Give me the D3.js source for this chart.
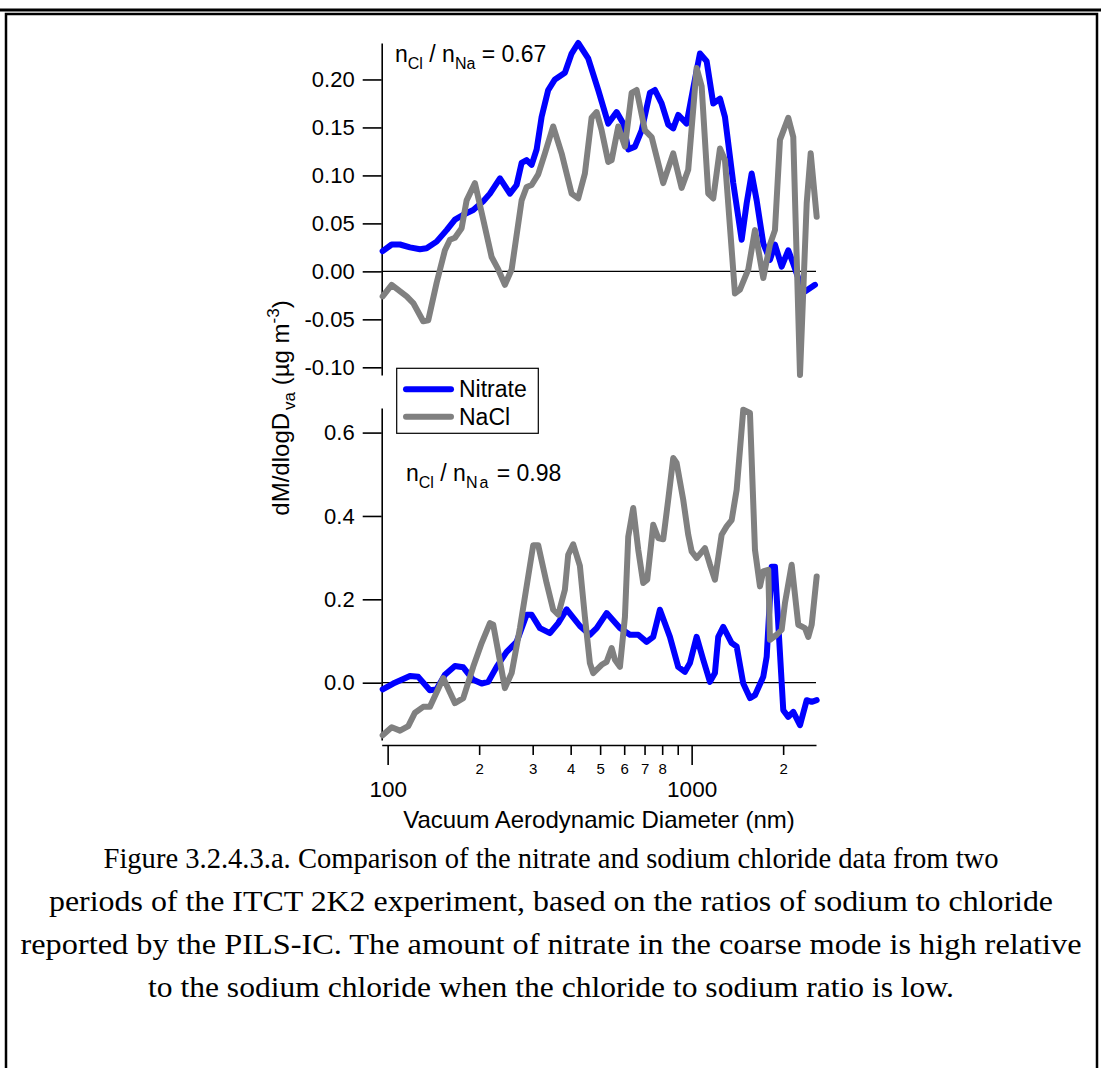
<!DOCTYPE html>
<html><head><meta charset="utf-8">
<script src="https://cdn.jsdelivr.net/npm/d3@7"></script>
<style>body{margin:0;background:#fff}svg{display:block}</style>
</head><body>
<svg id="c" width="1101" height="1068"></svg>
<script>
// ---------------- data ----------------
const topNitrateD = [96.3,103.1,109.8,118.4,127.7,134.3,144.9,156.3,166.5,177.3,191.2,206.3,217.0,234.1,252.5,265.6,275.9,286.5,297.6,309.1,321.0,337.4,355.0,382.9,402.9,423.5,456.8,492.9,531.7,566.6,595.7,618.6,650.8,684.7,729.1,757.3,796.6,837.5,869.8,903.3,962.6,1012.2,1064.9,1120.4,1177.8,1239.2,1287.0,1370.6,1460.7,1517.1,1575.7,1636.5,1720.4,1810.0,1879.8,1977.7,2079.0,2159.3,2272.1,2359.8,2545.5];
const topNitrateV = [0.021,0.028,0.028,0.025,0.023,0.024,0.031,0.043,0.054,0.059,0.064,0.073,0.081,0.097,0.081,0.090,0.113,0.116,0.111,0.127,0.161,0.189,0.200,0.207,0.227,0.238,0.222,0.189,0.154,0.166,0.154,0.127,0.130,0.147,0.186,0.189,0.175,0.153,0.149,0.163,0.154,0.191,0.227,0.219,0.175,0.180,0.161,0.092,0.033,0.071,0.102,0.074,0.029,0.012,0.028,0.005,0.022,0.008,-0.012,-0.021,-0.014];
const topNaClD = [96.3,103.1,115.5,121.4,130.9,136.0,144.9,154.3,160.3,166.5,175.1,181.9,193.7,206.3,219.8,231.1,243.1,255.8,275.9,286.5,297.6,312.8,329.1,350.4,373.5,402.9,423.5,445.5,468.7,487.0,505.7,531.7,545.6,573.5,603.4,634.8,659.3,702.0,738.6,806.3,869.8,926.9,974.4,1038.6,1078.7,1134.1,1177.8,1239.2,1287.0,1388.4,1442.0,1535.6,1615.5,1720.4,1810.0,1879.8,1952.4,2079.0,2159.3,2272.1,2390.4,2464.0,2578.5];
const topNaClV = [-0.026,-0.014,-0.026,-0.033,-0.052,-0.051,-0.012,0.022,0.033,0.035,0.045,0.074,0.092,0.054,0.015,0.002,-0.014,0.002,0.074,0.088,0.090,0.101,0.123,0.151,0.123,0.081,0.076,0.102,0.160,0.166,0.147,0.114,0.116,0.151,0.130,0.186,0.189,0.147,0.140,0.092,0.123,0.087,0.106,0.212,0.193,0.081,0.076,0.128,0.116,-0.023,-0.019,0.002,0.043,-0.007,0.028,0.043,0.137,0.160,0.140,-0.108,0.071,0.123,0.057];
const botNitrateD = [96.3,104.3,118.4,126.1,137.7,144.9,154.3,166.5,177.3,191.2,203.8,214.2,228.3,246.3,265.6,286.5,297.6,316.9,341.8,364.0,387.9,429.0,462.7,487.0,525.3,580.9,626.6,667.3,711.1,747.6,786.4,848.3,903.3,950.3,987.2,1038.6,1091.9,1148.8,1193.1,1223.3,1270.6,1354.1,1406.4,1478.5,1555.5,1615.5,1720.4,1765.3,1833.4,1879.8,2001.8,2079.0,2159.3,2272.1,2390.4,2482.7,2578.5];
const botNitrateV = [-0.016,-0.002,0.016,0.014,-0.018,-0.016,0.019,0.040,0.037,0.007,-0.002,0.002,0.038,0.074,0.098,0.163,0.163,0.131,0.119,0.143,0.176,0.136,0.115,0.131,0.167,0.131,0.115,0.115,0.098,0.110,0.175,0.110,0.038,0.026,0.047,0.110,0.055,0.002,0.023,0.110,0.134,0.095,0.087,-0.002,-0.037,-0.030,0.014,0.062,0.278,0.278,-0.066,-0.082,-0.070,-0.102,-0.042,-0.046,-0.042];
const botNaClD = [96.3,103.1,109.8,116.9,123.0,130.9,137.7,152.4,166.5,177.3,191.2,203.8,217.0,222.5,243.1,255.8,272.4,290.0,301.2,312.8,333.4,350.4,364.0,382.9,392.6,407.8,429.0,445.5,462.7,474.4,505.7,525.3,545.6,559.4,580.9,603.4,618.6,642.5,667.3,693.0,714.4,747.6,776.4,806.3,837.5,869.8,892.5,938.2,974.4,1000,1038.6,1106.1,1148.8,1193.1,1255.2,1303.7,1354.1,1406.4,1478.5,1555.5,1615.5,1677.9,1720.4,1786.8,1810.0,1904.2,1977.7,2027.7,2133.3,2243.0,2359.8,2419.5,2482.7,2578.5];
const botNaClV = [-0.126,-0.107,-0.115,-0.104,-0.072,-0.058,-0.058,0.011,-0.049,-0.037,0.038,0.095,0.143,0.139,-0.013,0.023,0.131,0.255,0.330,0.330,0.239,0.175,0.163,0.223,0.307,0.332,0.280,0.158,0.047,0.023,0.043,0.050,0.083,0.055,0.038,0.158,0.350,0.419,0.319,0.239,0.247,0.379,0.347,0.344,0.439,0.539,0.527,0.439,0.355,0.315,0.299,0.323,0.283,0.247,0.355,0.375,0.390,0.463,0.655,0.647,0.319,0.231,0.267,0.271,0.103,0.115,0.127,0.191,0.283,0.139,0.131,0.110,0.139,0.255];

const topTicks = [-0.10,-0.05,0.00,0.05,0.10,0.15,0.20];
const botTicks = [0.0,0.2,0.4,0.6];
const xMajor = [100,1000];
const xMinor = [200,300,400,500,600,700,800,900,2000];
const xMinorLabels = ["2","3","4","5","6","7","8","","2"];
const seriesNames = ["Nitrate","NaCl"];
const seriesColors = ["#0000ff","#808080"];
const ratios = ["0.67","0.98"];
const captionLines = [
 "Figure 3.2.4.3.a. Comparison of the nitrate and sodium chloride data from two",
 "periods of the ITCT 2K2 experiment, based on the ratios of sodium to chloride",
 "reported by the PILS-IC. The amount of nitrate in the coarse mode is high relative",
 "to the sodium chloride when the chloride to sodium ratio is low."
];

// ---------------- drawing ----------------
const svg = d3.select("#c");
svg.append("rect").attr("width",1101).attr("height",1068).attr("fill","#fff");
const SANS = "'Liberation Sans', Arial, Helvetica, sans-serif";
const SERIF = "'Liberation Serif', 'Times New Roman', serif";

// page frame
svg.append("line").attr("x1",0).attr("x2",1101).attr("y1",10).attr("y2",10).attr("stroke","#000").attr("stroke-width",3);
svg.append("path").attr("d","M6,1070V14H1097V1070").attr("fill","none").attr("stroke","#000").attr("stroke-width",2.5);

const x = d3.scaleLog().domain([95.6,2565]).range([381.7,816]);
const yTop = d3.scaleLinear().domain([-0.108,0.238]).range([375,43]);
const yBot = d3.scaleLinear().domain([-0.1375,0.659]).range([740,408]);

function yAxis(scale, ticks, fmt) {
  const g = svg.append("g").attr("transform","translate(381.7,0)")
    .call(d3.axisLeft(scale).tickValues(ticks).tickFormat(fmt).tickSize(19).tickPadding(8).tickSizeOuter(0));
  g.select(".domain").attr("stroke-width",1.6);
  g.selectAll(".tick line").attr("stroke-width",1.6);
  g.selectAll(".tick text").style("font-family",SANS).style("font-size","22px").attr("fill","#000");
  return g;
}
yAxis(yTop, topTicks, d => d3.format(".2f")(d).replace("−","-"));
yAxis(yBot, botTicks, d => d3.format(".1f")(d).replace("−","-"));

// zero lines
[yTop, yBot].forEach(s => {
  svg.append("line").attr("x1",381.7).attr("x2",816).attr("y1",s(0)).attr("y2",s(0)).attr("stroke","#000").attr("stroke-width",1.2);
});

// x axis
const allX = xMajor.concat(xMinor);
const gx = svg.append("g").attr("transform","translate(0,745)")
  .call(d3.axisBottom(x).tickValues(allX).tickFormat("").tickSize(10).tickSizeOuter(0));
gx.select(".domain").attr("stroke-width",1.6);
gx.selectAll(".tick line").attr("stroke-width",1.6).attr("y2", d => xMajor.includes(d) ? 20 : 10);
gx.selectAll(".tick text").remove();
gx.selectAll(".tick").filter(d => xMajor.includes(d)).append("text")
  .attr("y",52).attr("text-anchor","middle").attr("fill","#000")
  .style("font-family",SANS).style("font-size","22.5px").text(d => d3.format("d")(d));
gx.selectAll(".tick").filter(d => xMinor.includes(d)).append("text")
  .attr("y",29).attr("text-anchor","middle").attr("fill","#000")
  .style("font-family",SANS).style("font-size","15px").text(d => xMinorLabels[xMinor.indexOf(d)]);

svg.append("text").attr("x",599).attr("y",828).attr("text-anchor","middle")
  .style("font-family",SANS).style("font-size","24px").text("Vacuum Aerodynamic Diameter (nm)");

// y title
const yt = svg.append("text").attr("transform","translate(289,408) rotate(-90)")
  .attr("text-anchor","middle").style("font-family",SANS).style("font-size","24px");
yt.append("tspan").text("dM/dlogD");
yt.append("tspan").attr("dy",6).attr("dx",3).style("font-size","17px").text("va");
yt.append("tspan").attr("dy",-6).text(" (µg m");
yt.append("tspan").attr("dy",-10).style("font-size","17px").text("-3");
yt.append("tspan").attr("dy",10).text(")");

// lines
const line = (s) => d3.line().x(d => x(d[0])).y(d => s(d[1]));
function drawSeries(D, V, s, color) {
  svg.append("path").datum(D.map((d,i) => [d, V[i]]))
    .attr("d", line(s)).attr("fill","none").attr("stroke",color)
    .attr("stroke-width",6).attr("stroke-linejoin","round").attr("stroke-linecap","round");
}
drawSeries(topNitrateD, topNitrateV, yTop, seriesColors[0]);
drawSeries(topNaClD, topNaClV, yTop, seriesColors[1]);
drawSeries(botNitrateD, botNitrateV, yBot, seriesColors[0]);
drawSeries(botNaClD, botNaClV, yBot, seriesColors[1]);

// ratio annotations
function ratio(px, py, val, sp) {
  const t = svg.append("text").attr("x",px).attr("y",py).style("font-family",SANS).style("font-size","23px");
  t.append("tspan").text("n");
  t.append("tspan").attr("dy",7).style("font-size","16px").text("Cl");
  t.append("tspan").attr("dy",-7).text(" / n");
  t.append("tspan").attr("dy",7).style("font-size","16px").style("letter-spacing",sp).text("Na");
  t.append("tspan").attr("dy",-7).text(" = " + val);
}
ratio(395, 62, ratios[0], "0px");
ratio(406, 481, ratios[1], "2px");

// legend
const lg = svg.append("g");
lg.append("rect").attr("x",396.7).attr("y",368.3).attr("width",141.6).attr("height",65)
  .attr("fill","#fff").attr("stroke","#000").attr("stroke-width",1.2);
seriesNames.forEach((n,i) => {
  const yy = 389.3 + i*27.5;
  lg.append("line").attr("x1",406).attr("x2",451).attr("y1",yy).attr("y2",yy)
    .attr("stroke",seriesColors[i]).attr("stroke-width",6).attr("stroke-linecap","round");
  lg.append("text").attr("x",459).attr("y",yy+8).style("font-family",SANS).style("font-size","23px").text(n);
});

// caption
const capW = [895,1004,1061,806];
captionLines.forEach((t,i) => {
  svg.append("text").attr("x",551).attr("y",868 + i*43).attr("text-anchor","middle")
    .attr("textLength",capW[i]).attr("lengthAdjust","spacingAndGlyphs")
    .style("font-family",SERIF).style("font-size","29px").text(t);
});
</script>
</body></html>
